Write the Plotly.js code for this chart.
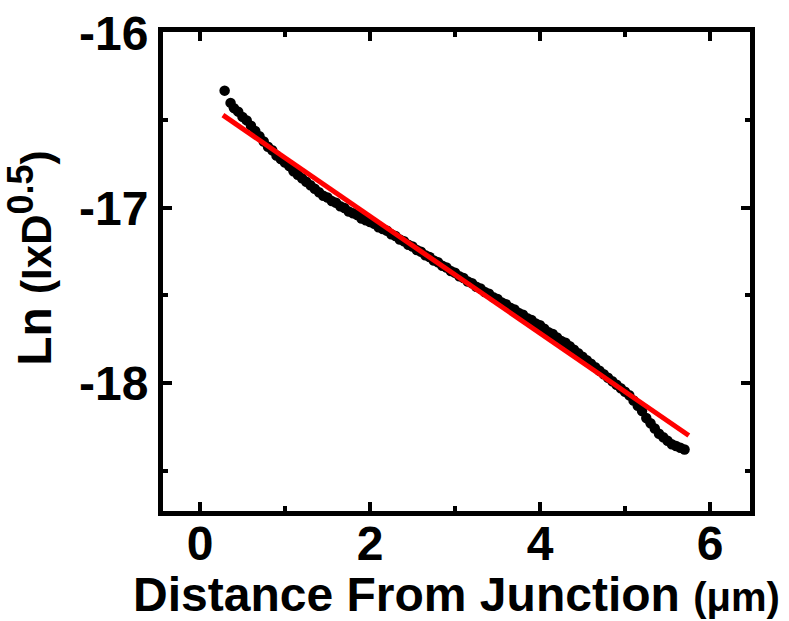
<!DOCTYPE html>
<html>
<head>
<meta charset="utf-8">
<script src="https://cdn.plot.ly/plotly-3.0.1.min.js"></script>
<style>html,body{margin:0;padding:0;background:#fff;}#chart{width:789px;height:621px;}</style>
</head>
<body>
<div id="chart"></div>
<script>
// Measured data: Ln(I x D^0.5) vs distance from junction (µm)
const distance = [0.29,0.36,0.40,0.45,0.50,0.55,0.60,0.65,0.70,0.75,0.80,0.85,0.90,0.95,1.00,1.05,1.10,1.15,1.20,1.25,1.30,1.35,1.40,1.45,1.50,1.55,1.60,1.65,1.70,1.75,1.80,1.85,1.90,1.95,2.00,2.05,2.10,2.15,2.20,2.25,2.30,2.35,2.40,2.45,2.50,2.55,2.60,2.65,2.70,2.75,2.80,2.85,2.90,2.95,3.00,3.05,3.10,3.15,3.20,3.25,3.30,3.35,3.40,3.45,3.50,3.55,3.60,3.65,3.70,3.75,3.80,3.85,3.90,3.95,4.00,4.05,4.10,4.15,4.20,4.25,4.30,4.35,4.40,4.45,4.50,4.55,4.60,4.65,4.70,4.75,4.80,4.85,4.90,4.95,5.00,5.05,5.10,5.15,5.20,5.25,5.30,5.35,5.40,5.45,5.50,5.55,5.60,5.65,5.70];
const lnValue = [-16.33,-16.40,-16.43,-16.45,-16.48,-16.50,-16.53,-16.56,-16.59,-16.62,-16.65,-16.67,-16.70,-16.72,-16.74,-16.76,-16.79,-16.81,-16.83,-16.85,-16.87,-16.89,-16.91,-16.93,-16.94,-16.96,-16.97,-16.99,-17.00,-17.02,-17.03,-17.04,-17.06,-17.07,-17.08,-17.09,-17.11,-17.12,-17.13,-17.15,-17.16,-17.18,-17.19,-17.21,-17.22,-17.24,-17.25,-17.27,-17.28,-17.30,-17.31,-17.33,-17.34,-17.36,-17.37,-17.39,-17.40,-17.42,-17.43,-17.45,-17.46,-17.48,-17.49,-17.51,-17.52,-17.54,-17.55,-17.57,-17.58,-17.60,-17.61,-17.63,-17.64,-17.66,-17.67,-17.69,-17.71,-17.72,-17.74,-17.76,-17.77,-17.79,-17.81,-17.83,-17.85,-17.87,-17.89,-17.91,-17.93,-17.95,-17.97,-17.99,-18.01,-18.03,-18.05,-18.07,-18.10,-18.13,-18.16,-18.20,-18.23,-18.26,-18.29,-18.31,-18.33,-18.35,-18.36,-18.37,-18.38];
const fitX = [0.27, 5.75];
const fitY = [-16.47, -18.30];
const xTickVals = [0, 2, 4, 6];
const xTickText = ['0', '2', '4', '6'];
const yTickVals = [-16, -17, -18];
const yTickText = ['-16', '-17', '-18'];

const FONT = 'Liberation Sans, Arial, sans-serif';

const traces = [
  {x: distance, y: lnValue, type: 'scatter', mode: 'markers',
   marker: {color: '#000', size: 10.5}, showlegend: false, hoverinfo: 'skip'},
  {x: fitX, y: fitY, type: 'scatter', mode: 'lines',
   line: {color: '#ff0000', width: 5}, showlegend: false, hoverinfo: 'skip'}
];

const axisCommon = {
  showline: true, linecolor: '#000', linewidth: 5, mirror: 'allticks',
  ticks: 'inside', ticklen: 9, tickwidth: 4, tickcolor: '#000',
  showgrid: false, zeroline: false, tickmode: 'array',
  tickfont: {family: FONT, size: 48, color: '#000', weight: 700}
};

const layout = {
  width: 789, height: 621,
  margin: {l: 163, r: 39, t: 32, b: 110},
  paper_bgcolor: '#fff', plot_bgcolor: '#fff',
  xaxis: Object.assign({}, axisCommon, {
    range: [-0.435, 6.47], tickvals: xTickVals, ticktext: xTickText,
    ticklabelstandoff: -14,
    minor: {ticks: 'inside', ticklen: 5, tickwidth: 4, tickcolor: '#000', tickvals: [1, 3, 5]},
    title: {text: '<b>Distance From Junction <span style="font-size:40px">(μm)</span></b>',
            font: {family: FONT, size: 48, color: '#000'}, standoff: 0}
  }),
  yaxis: Object.assign({}, axisCommon, {
    range: [-18.731, -15.995], tickvals: yTickVals, ticktext: yTickText,
    minor: {ticks: 'inside', ticklen: 5, tickwidth: 4, tickcolor: '#000', tickvals: [-16.5, -17.5, -18.5]},
    title: {text: '<b>&nbsp;&nbsp;Ln <span style="font-size:42px">(IxD<sup><span style="font-size:36px">0.5</span></sup>)</span></b>',
            font: {family: FONT, size: 48, color: '#000'}, standoff: 18}
  })
};

Plotly.newPlot('chart', traces, layout, {staticPlot: true, displayModeBar: false});
</script>
</body>
</html>
